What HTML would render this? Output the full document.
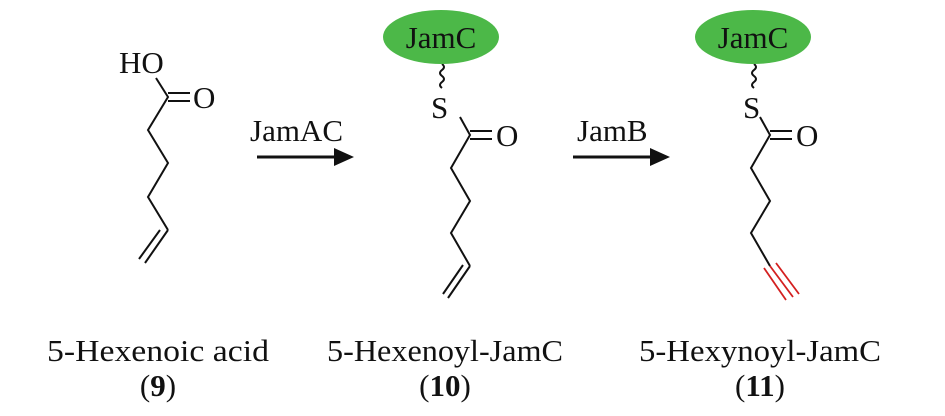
<!DOCTYPE html>
<html><head><style>
html,body{margin:0;padding:0;background:#fff;}
svg text{font-family:"Liberation Serif",serif;fill:#111;}
</style></head><body>
<svg width="945" height="411" viewBox="0 0 945 411" xmlns="http://www.w3.org/2000/svg">
<g stroke="#111" stroke-width="2" fill="none">
<!-- compound 9 -->
<path d="M156 78 L168 97 L148 130 L168 163 L148 197 L168 230"/>
<path d="M168 93 L190 93 M168 101 L190 101"/>
<path d="M168 230 L145 263 M160 230 L139 259"/>
<!-- compound 10 -->
<path d="M460 117 L470 135 L451 168 L470 201 L451 233 L470 266"/>
<path d="M470 131 L492 131 M470 139 L492 139"/>
<path d="M470 266 L448 298 M463 265 L443 294"/>
<path d="M442 64 q4 3 0 6 q-4 3 0 6 q4 3 0 6 q-4 3 0 6"/>
<!-- compound 11 -->
<path d="M760 117 L770 135 L751 168 L770 201 L751 233 L770 266"/>
<path d="M770 131 L792 131 M770 139 L792 139"/>
<path d="M754 64 q4 3 0 6 q-4 3 0 6 q4 3 0 6 q-4 3 0 6"/>
<!-- arrows -->
<path d="M257 157 L336 157 M573 157 L652 157" stroke-width="3"/>
</g>
<g stroke="#d42020" stroke-width="1.8">
<path d="M770 266 L793 297 M764 268 L786 300 M776 263 L799 294"/>
</g>
<polygon points="334,148 354,157 334,166" fill="#111"/>
<polygon points="650,148 670,157 650,166" fill="#111"/>
<ellipse cx="441" cy="37" rx="58" ry="27" fill="#4cb848"/>
<ellipse cx="753" cy="37" rx="58" ry="27" fill="#4cb848"/>
<g font-size="31">
<text x="119" y="73">HO</text>
<text x="193" y="108">O</text>
<text x="441" y="48" text-anchor="middle">JamC</text>
<text x="753" y="48" text-anchor="middle">JamC</text>
<text x="431" y="118">S</text>
<text x="743" y="118">S</text>
<text x="496" y="146">O</text>
<text x="796" y="146">O</text>
<text x="250" y="141">JamAC</text>
<text x="577" y="141">JamB</text>
<text x="158" y="361" text-anchor="middle" textLength="222" lengthAdjust="spacingAndGlyphs">5-Hexenoic acid</text>
<text x="445" y="361" text-anchor="middle" textLength="236" lengthAdjust="spacingAndGlyphs">5-Hexenoyl-JamC</text>
<text x="760" y="361" text-anchor="middle" textLength="242" lengthAdjust="spacingAndGlyphs">5-Hexynoyl-JamC</text>
<text x="158" y="396" text-anchor="middle">(<tspan font-weight="bold">9</tspan>)</text>
<text x="445" y="396" text-anchor="middle">(<tspan font-weight="bold">10</tspan>)</text>
<text x="760" y="396" text-anchor="middle">(<tspan font-weight="bold">11</tspan>)</text>
</g>
</svg>
</body></html>
